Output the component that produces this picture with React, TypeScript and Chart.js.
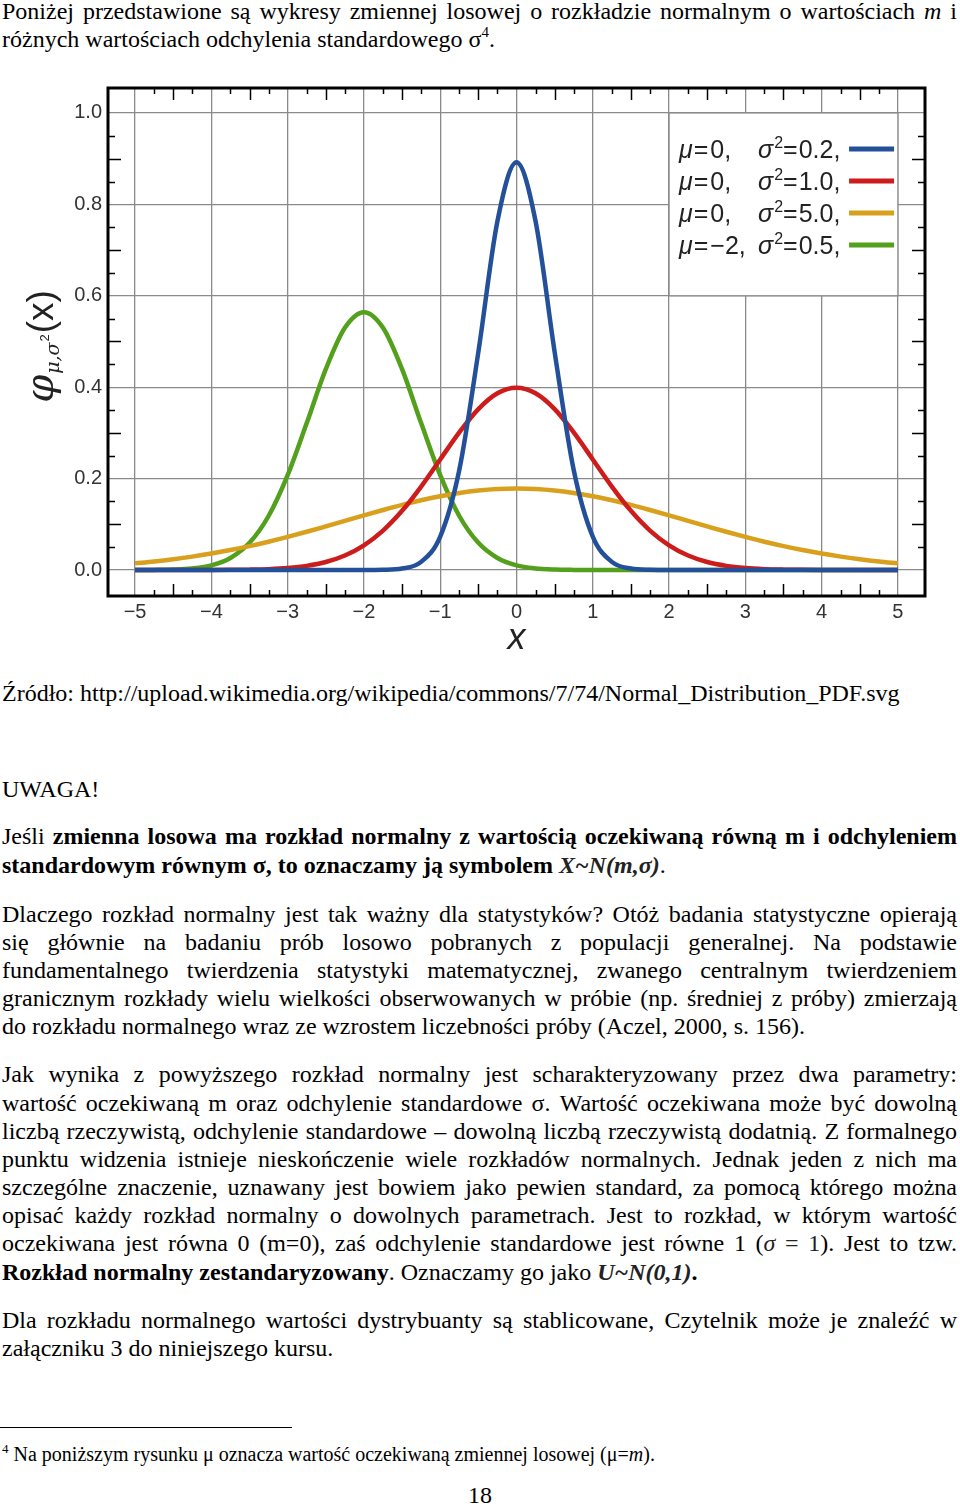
import React, { useEffect, useRef } from "react";
import { Chart, registerables } from "chart.js";

Chart.register(...registerables);

// ---------- chart data ----------
const xs = [
  -5, -4.75, -4.5, -4.25, -4, -3.75, -3.5, -3.25, -3, -2.75, -2.5, -2.25, -2, -1.75, -1.5, -1.25, -1, -0.75, -0.5, -0.25,
  0, 0.25, 0.5, 0.75, 1, 1.25, 1.5, 1.75, 2, 2.25, 2.5, 2.75, 3, 3.25, 3.5, 3.75, 4, 4.25, 4.5, 4.75, 5,
];

const blueValues = [
  0, 0, 0, 0, 0, 0, 0, 0, 0, 0, 0, 0, 0, 0.0004, 0.0032, 0.0179, 0.0732, 0.219, 0.477, 0.763,
  0.892, 0.763, 0.477, 0.219, 0.0732, 0.0179, 0.0032, 0.0004, 0, 0, 0, 0, 0, 0, 0, 0, 0, 0, 0, 0, 0,
];
const redValues = [
  0, 0, 0, 0, 0.0001, 0.0004, 0.0009, 0.002, 0.0044, 0.0091, 0.0175, 0.0317, 0.054, 0.0863, 0.1295, 0.1826, 0.242, 0.3011, 0.3521, 0.3867,
  0.3989, 0.3867, 0.3521, 0.3011, 0.242, 0.1826, 0.1295, 0.0863, 0.054, 0.0317, 0.0175, 0.0091, 0.0044, 0.002, 0.0009, 0.0004, 0.0001, 0, 0, 0, 0,
];
const orangeValues = [
  0.0146, 0.0187, 0.0236, 0.0293, 0.036, 0.0437, 0.0524, 0.062, 0.0725, 0.0837, 0.0955, 0.1075, 0.1196, 0.1313, 0.1425, 0.1526, 0.1614, 0.1686, 0.174, 0.1773,
  0.1784, 0.1773, 0.174, 0.1686, 0.1614, 0.1526, 0.1425, 0.1313, 0.1196, 0.1075, 0.0955, 0.0837, 0.0725, 0.062, 0.0524, 0.0437, 0.036, 0.0293, 0.0236, 0.0187, 0.0146,
];
const greenValues = [
  0.0001, 0.0003, 0.0011, 0.0036, 0.0103, 0.0264, 0.0595, 0.1182, 0.2076, 0.3215, 0.4394, 0.53, 0.5642, 0.53, 0.4394, 0.3215, 0.2076, 0.1182, 0.0595, 0.0264,
  0.0103, 0.0036, 0.0011, 0.0003, 0.0001, 0, 0, 0, 0, 0, 0, 0, 0, 0, 0, 0, 0, 0, 0, 0, 0,
];

const seriesValues = [blueValues, redValues, orangeValues, greenValues];
const seriesColors = ["#24509a", "#cc1c1c", "#d8a01c", "#52a01c"];
const legendMu = ["0", "0", "0", "\u22122"];
const legendVar = ["0.2", "1.0", "5.0", "0.5"];

const xTicks = [-5, -4, -3, -2, -1, 0, 1, 2, 3, 4, 5];
const xTickLabels = ["\u22125", "\u22124", "\u22123", "\u22122", "\u22121", "0", "1", "2", "3", "4", "5"];
const yTicks = [0, 0.2, 0.4, 0.6, 0.8, 1.0];
const yTickLabels = ["0.0", "0.2", "0.4", "0.6", "0.8", "1.0"];

// legend box in data units: [xFrom, xTo, yFrom, yTo]
const legendBox = [2, 5, 0.6, 1.0];

const SERIF = '"Liberation Serif", "Times New Roman", serif';
const SANS = '"Liberation Sans", Arial, sans-serif';
const GRID = "#8a8a8a";

const decorPlugin = {
  id: "decor",
  beforeDatasetsDraw(chart: any) {
    const { ctx, scales } = chart;
    const x = scales.x;
    const y = scales.y;
    const bx0 = x.getPixelForValue(legendBox[0]);
    const bx1 = x.getPixelForValue(legendBox[1]);
    const by0 = y.getPixelForValue(legendBox[3]);
    const by1 = y.getPixelForValue(legendBox[2]);
    ctx.save();
    ctx.fillStyle = "#fff";
    ctx.fillRect(bx0, by0, bx1 - bx0, by1 - by0);
    ctx.strokeStyle = GRID;
    ctx.lineWidth = 1.3;
    ctx.strokeRect(bx0, by0, bx1 - bx0, by1 - by0);

    ctx.textBaseline = "alphabetic";
    ctx.fillStyle = "#222";
    for (let i = 0; i < legendMu.length; i++) {
      const yc = by0 + 36 + 32 * i;
      const base = yc + 9;
      let cx = bx0 + 10;
      ctx.font = `italic 25px ${SANS}`;
      ctx.fillText("\u03bc", cx, base);
      cx += ctx.measureText("\u03bc").width + 1;
      ctx.font = `25px ${SANS}`;
      ctx.fillText("=", cx, base);
      cx += ctx.measureText("=").width + 2;
      ctx.fillText(legendMu[i] + ",", cx, base);

      let sx = bx0 + 89;
      ctx.font = `italic 25px ${SANS}`;
      ctx.fillText("\u03c3", sx, base);
      sx += ctx.measureText("\u03c3").width + 1;
      ctx.font = `16px ${SANS}`;
      ctx.fillText("2", sx, base - 10);
      sx += ctx.measureText("2").width;
      ctx.font = `25px ${SANS}`;
      ctx.fillText("=", sx, base);
      sx += ctx.measureText("=").width + 1;
      ctx.fillText(legendVar[i] + ",", sx, base);

      ctx.strokeStyle = seriesColors[i];
      ctx.lineWidth = 5;
      ctx.beginPath();
      ctx.moveTo(bx0 + 180, yc);
      ctx.lineTo(bx0 + 225, yc);
      ctx.stroke();
    }
    ctx.restore();
  },
  afterDatasetsDraw(chart: any) {
    const { ctx, chartArea: a, scales } = chart;
    const x = scales.x;
    const y = scales.y;
    ctx.save();
    // minor ticks
    ctx.strokeStyle = "#000";
    ctx.lineWidth = 1.5;
    ctx.beginPath();
    for (let k = -20; k <= 20; k++) {
      if (k % 4 === 0) continue;
      const v = k * 0.25;
      const len = k % 2 === 0 ? 12 : 6;
      const px = Math.round(x.getPixelForValue(v)) + 0.5;
      ctx.moveTo(px, a.bottom);
      ctx.lineTo(px, a.bottom - len);
      ctx.moveTo(px, a.top);
      ctx.lineTo(px, a.top + len);
    }
    for (let k = 0; k <= 20; k++) {
      if (k % 4 === 0) continue;
      const v = k * 0.05;
      const len = k % 2 === 0 ? 13 : 7;
      const py = Math.round(y.getPixelForValue(v)) + 0.5;
      ctx.moveTo(a.left, py);
      ctx.lineTo(a.left + len, py);
      ctx.moveTo(a.right, py);
      ctx.lineTo(a.right - len, py);
    }
    ctx.stroke();
    // frame
    ctx.lineWidth = 3;
    ctx.strokeRect(a.left, a.top, a.right - a.left, a.bottom - a.top);

    // x axis title
    ctx.fillStyle = "#222";
    ctx.font = `italic 36px ${SANS}`;
    ctx.textAlign = "center";
    ctx.textBaseline = "alphabetic";
    ctx.fillText("x", x.getPixelForValue(0), a.bottom + 53);

    // y axis title (rotated)
    ctx.translate(53, (a.top + a.bottom) / 2 + 4);
    ctx.rotate(-Math.PI / 2);
    ctx.textAlign = "left";
    const parts: [string, string, number][] = [
      ["\u03c6", `italic 40px "DejaVu Serif", ${SERIF}`, 0],
      ["\u03bc,\u03c3", `italic 19px "DejaVu Serif", ${SERIF}`, 6],
      ["2", `13px ${SANS}`, -4],
      ["(x)", `37px ${SANS}`, 0],
    ];
    let total = 0;
    const widths: number[] = [];
    for (const p of parts) {
      ctx.font = p[1];
      const w = ctx.measureText(p[0]).width + 1;
      widths.push(w);
      total += w;
    }
    let u = -total / 2;
    parts.forEach((p, i) => {
      ctx.font = p[1];
      ctx.fillText(p[0], u, p[2]);
      u += widths[i];
    });
    ctx.restore();
  },
};

const Sup = ({ children, size = 15, top = -10 }: any) => (
  <span style={{ fontSize: size, position: "relative", top, lineHeight: 0 }}>{children}</span>
);

const Line = ({ base, j = false, children, size = 24, left = 2, width = 955, center = false }: any) => (
  <div
    style={{
      position: "absolute",
      left,
      width,
      top: base - Math.round(size * 0.92),
      height: Math.round(size * 1.17),
      lineHeight: `${Math.round(size * 1.17)}px`,
      fontSize: size,
      fontFamily: SERIF,
      color: "#000",
      textAlign: center ? "center" : j ? "justify" : "left",
      textAlignLast: center ? "center" : j ? "justify" : "left",
    } as any}
  >
    {children}
  </div>
);

const mathStyle: any = { fontWeight: "bold", fontStyle: "italic", color: "#222" };

export default function App() {
  const ref = useRef<HTMLCanvasElement>(null);
  useEffect(() => {
    const datasets = seriesValues.map((vals, i) => ({
      label: `${legendMu[i]} ${legendVar[i]}`,
      data: xs.map((xv, k) => ({ x: xv, y: vals[k] })),
      borderColor: seriesColors[i],
      borderWidth: 4.5,
      pointRadius: 0,
      fill: false,
      cubicInterpolationMode: "monotone",
    }));
    const chart = new Chart(ref.current as HTMLCanvasElement, {
      type: "line",
      data: { datasets } as any,
      options: {
        animation: false,
        responsive: false,
        maintainAspectRatio: false,
        layout: { padding: { left: 0, right: 35, top: 17, bottom: 0 } },
        plugins: { legend: { display: false }, tooltip: { enabled: false } },
        scales: {
          x: {
            type: "linear",
            min: -5.355,
            max: 5.355,
            afterBuildTicks: (s: any) => {
              s.ticks = xTicks.map((v) => ({ value: v }));
            },
            afterFit: (s: any) => {
              s.height = 74;
            },
            grid: { color: GRID, lineWidth: 1.3, drawTicks: false },
            border: { display: false },
            ticks: {
              callback: (_v: any, i: number) => xTickLabels[i],
              font: { family: SANS, size: 20 },
              color: "#333",
              padding: 4,
              maxRotation: 0,
              autoSkip: false,
            },
          },
          y: {
            type: "linear",
            min: -0.0568,
            max: 1.0546,
            afterBuildTicks: (s: any) => {
              s.ticks = yTicks.map((v) => ({ value: v }));
            },
            afterFit: (s: any) => {
              s.width = 108;
            },
            grid: { color: GRID, lineWidth: 1.3, drawTicks: false },
            border: { display: false },
            ticks: {
              callback: (_v: any, i: number) => yTickLabels[i],
              font: { family: SANS, size: 20 },
              color: "#333",
              padding: 6,
              autoSkip: false,
            },
          },
        },
      } as any,
      plugins: [decorPlugin],
    });
    return () => chart.destroy();
  }, []);

  return (
    <div style={{ position: "relative", width: 960, height: 1506, background: "#fff", overflow: "hidden" }}>
      <style>{`html,body{margin:0;padding:0;background:#fff}`}</style>

      <Line base={19} j>
        Poniżej przedstawione są wykresy zmiennej losowej o rozkładzie normalnym o wartościach <i>m</i> i
      </Line>
      <Line base={47}>
        różnych wartościach odchylenia standardowego σ<Sup>4</Sup>.
      </Line>

      <div style={{ position: "absolute", left: 0, top: 70, width: 960, height: 600 }}>
        <canvas ref={ref} width={960} height={600} style={{ width: 960, height: 600, display: "block" }} />
      </div>

      <Line base={701}>
        Źródło: http://upload.wikimedia.org/wikipedia/commons/7/74/Normal_Distribution_PDF.svg
      </Line>

      <Line base={797}>UWAGA!</Line>
      <Line base={844} j>
        Jeśli <b>zmienna losowa ma rozkład normalny z wartością oczekiwaną równą m i odchyleniem</b>
      </Line>
      <Line base={873}>
        <b>standardowym równym σ, to oznaczamy ją symbolem </b>
        <span style={mathStyle}>X~N(m,σ)</span>.
      </Line>

      <Line base={922} j>
        Dlaczego rozkład normalny jest tak ważny dla statystyków? Otóż badania statystyczne opierają
      </Line>
      <Line base={950} j>
        się głównie na badaniu prób losowo pobranych z populacji generalnej. Na podstawie
      </Line>
      <Line base={978} j>
        fundamentalnego twierdzenia statystyki matematycznej, zwanego centralnym twierdzeniem
      </Line>
      <Line base={1006} j>
        granicznym rozkłady wielu wielkości obserwowanych w próbie (np. średniej z próby) zmierzają
      </Line>
      <Line base={1034}>
        do rozkładu normalnego wraz ze wzrostem liczebności próby (Aczel, 2000, s. 156).
      </Line>

      <Line base={1082} j>
        Jak wynika z powyższego rozkład normalny jest scharakteryzowany przez dwa parametry:
      </Line>
      <Line base={1111} j>
        wartość oczekiwaną m oraz odchylenie standardowe σ. Wartość oczekiwana może być dowolną
      </Line>
      <Line base={1139} j>
        liczbą rzeczywistą, odchylenie standardowe – dowolną liczbą rzeczywistą dodatnią. Z formalnego
      </Line>
      <Line base={1167} j>
        punktu widzenia istnieje nieskończenie wiele rozkładów normalnych. Jednak jeden z nich ma
      </Line>
      <Line base={1195} j>
        szczególne znaczenie, uznawany jest bowiem jako pewien standard, za pomocą którego można
      </Line>
      <Line base={1223} j>
        opisać każdy rozkład normalny o dowolnych parametrach. Jest to rozkład, w którym wartość
      </Line>
      <Line base={1251} j>
        oczekiwana jest równa 0 (m=0), zaś odchylenie standardowe jest równe 1 (<i style={{ color: "#222" }}>σ</i>
        <span style={{ color: "#222" }}> = 1</span>). Jest to tzw.
      </Line>
      <Line base={1280}>
        <b>Rozkład normalny zestandaryzowany</b>. Oznaczamy go jako <span style={mathStyle}>U~N(0,1)</span>
        <b>.</b>
      </Line>

      <Line base={1328} j>
        Dla rozkładu normalnego wartości dystrybuanty są stablicowane, Czytelnik może je znaleźć w
      </Line>
      <Line base={1356}>załączniku 3 do niniejszego kursu.</Line>

      <div style={{ position: "absolute", left: 0, top: 1427, width: 292, height: 0, borderTop: "1.5px solid #000" }} />
      <Line base={1461} size={20}>
        <Sup size={13} top={-8}>4</Sup> Na poniższym rysunku μ oznacza wartość oczekiwaną zmiennej losowej (μ=<i>m</i>).
      </Line>
      <Line base={1503} center left={0} width={960}>
        18
      </Line>
    </div>
  );
}
